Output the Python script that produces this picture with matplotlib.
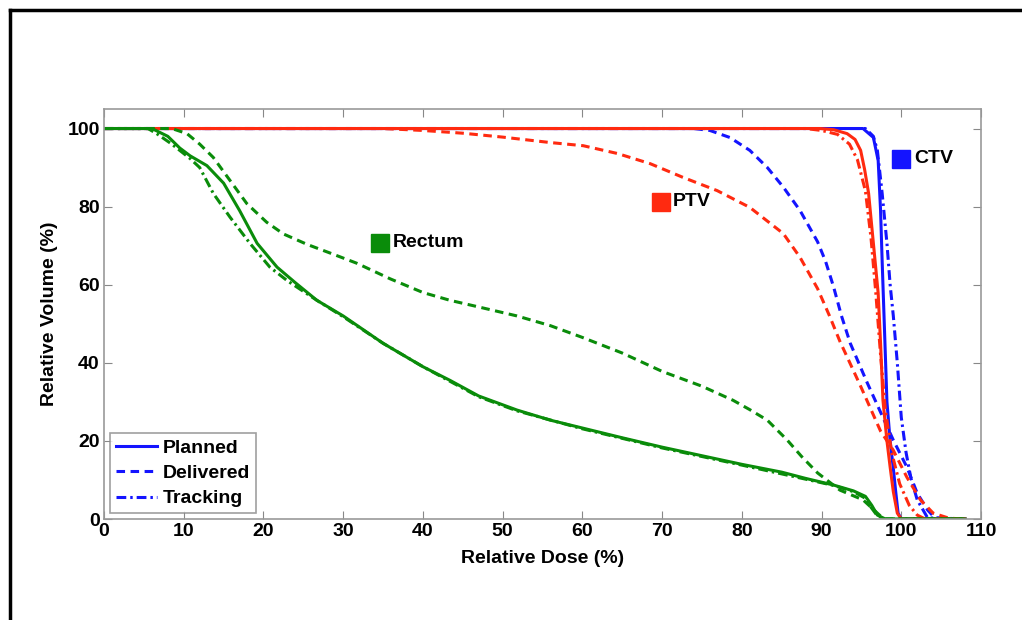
import matplotlib
matplotlib.use('Agg')
import matplotlib.pyplot as plt
from matplotlib.lines import Line2D

plt.rcParams['font.family'] = ['Liberation Sans', 'DejaVu Sans']
plt.rcParams['font.weight'] = 'bold'

# ---- data (dose %, volume %) ----
ctv_plan_x = [0, 95.2, 96.5, 97.1, 97.4, 97.6, 97.9, 98.2, 98.6, 99, 99.3, 99.6, 100, 108]
ctv_plan_y = [100, 100, 97.7, 91.8, 79, 66, 48, 30, 20, 13, 7, 1.5, 0, 0]

ctv_deliv_x = [0, 74, 76, 78.5, 81, 83.2, 85.2, 87.3, 89.5, 90.5, 91.5, 92.5, 93.6, 95.7, 97.7,
               99, 100.7, 102, 103.3, 104.2, 108]
ctv_deliv_y = [100, 100, 99.5, 97.7, 94.4, 90, 85, 79, 71, 66, 59.5, 52, 45, 35, 26,
               20.2, 13.3, 6.6, 2.3, 0.3, 0]

ctv_track_x = [0, 95.5, 96.5, 97, 97.6, 98.2, 98.6, 99, 99.5, 100, 100.6, 101.2, 102, 103.3, 108]
ctv_track_y = [100, 100, 98, 94.4, 83.4, 70.6, 60, 52, 40, 26, 17, 10.5, 4.9, 0.3, 0]

ptv_plan_x = [0, 89.8, 91.5, 93.2, 94.2, 94.9, 95.4, 95.9, 96.5, 97.1, 97.4, 97.7, 98.2, 98.6,
              99, 99.5, 100, 108]
ptv_plan_y = [100, 100, 99.7, 98.7, 97.2, 94.4, 89.5, 83.4, 70.6, 57.8, 45, 30.4, 20, 13.3,
              7, 1.5, 0, 0]

ptv_deliv_x = [0, 35, 40, 45, 50, 56, 60.1, 64.4, 68.5, 72.6, 76.9, 81, 85.2, 87.3, 89.5,
               91, 92.3, 94.9, 97.4, 99, 100.7, 102.4, 104, 106, 108]
ptv_deliv_y = [100, 100, 99.5, 98.8, 97.8, 96.4, 95.6, 93.6, 91, 87.5, 84.1, 79.8, 73.1, 67, 59,
               52, 45.5, 34, 22.5, 17.6, 10.7, 4.9, 1.5, 0.2, 0]

ptv_track_x = [0, 88, 90, 92, 93.5, 94.5, 95.5, 96.2, 96.8, 97.4, 98, 98.8, 99.8, 101, 102, 103, 108]
ptv_track_y = [100, 100, 99.5, 98.5, 96, 92, 84, 72, 58, 42, 28, 17, 9, 3.5, 1, 0, 0]

rect_plan_x = [0, 6, 8, 9.5, 10.8, 12.9, 15, 17, 19.2, 21.7, 24, 26.7, 30, 35, 40, 43.4, 47,
               51.8, 56, 60, 65, 70, 75, 80, 85, 88, 91.5, 94, 95.5, 96.3, 97, 98, 108]
rect_plan_y = [100, 100, 98, 95, 93, 90.5, 86, 79, 70.6, 64.5, 60.5, 56, 52, 45, 39, 35.5, 31.5,
               27.9, 25.3, 23.3, 20.8, 18.4, 16.2, 14, 12, 10.4, 8.7, 7.2, 5.8, 3.5, 1, 0, 0]

rect_deliv_x = [0, 8.5, 10.4, 12, 13.7, 15.8, 17.9, 20.4, 22.5, 25.5, 28.5, 31.7, 35.9, 40, 43.4,
                47, 51.8, 56, 60, 65, 70, 75, 78.9, 81, 83.2, 85.7, 87.5, 89.5, 92.3, 95.2, 97,
                97.8, 108]
rect_deliv_y = [100, 100, 98.7, 96, 92.6, 86.7, 80.8, 76, 73, 70.3, 68, 65.5, 61.5, 58, 56,
                54.3, 52, 49.5, 46.5, 42.5, 37.8, 34, 30.4, 28, 25.3, 20.2, 16, 11.8, 7.4, 4.9, 1.5,
                0, 0]

rect_track_x = [0, 5.5, 6.6, 8.5, 10.8, 12, 13.7, 15.8, 18.3, 20.8, 23, 26.7, 30, 35, 40, 47,
                51.8, 60, 70, 80, 88, 91.5, 94, 95.5, 96.2, 97, 98, 108]
rect_track_y = [100, 100, 98.7, 96, 92.3, 90, 83.4, 77.3, 70.6, 64.5, 61, 56, 51.8, 45, 39, 31.3,
                27.7, 23.1, 18.2, 13.8, 10.2, 8.6, 7, 5.3, 3, 0.8, 0, 0]

organ_names = ['CTV', 'PTV', 'Rectum']
organ_label_x = [100, 69.8, 34.6]
organ_label_y = [92.3, 81.3, 70.8]

blue = '#1414ff'
red = '#ff2a10'
green = '#0a8c0a'
organ_colors = [blue, red, green]

dash = (2.8, 1.8)
dashdot = (3.2, 1.3, 0.8, 1.3)
lw = 2.2

fig = plt.figure(figsize=(10.22, 6.2), dpi=100)
ax = fig.add_axes([0.1018, 0.1629, 0.8581, 0.6613])

ax.plot(ctv_plan_x, ctv_plan_y, color=blue, lw=lw)
ax.plot(ctv_track_x, ctv_track_y, color=blue, lw=lw, dashes=dashdot)
ax.plot(ctv_deliv_x, ctv_deliv_y, color=blue, lw=lw, dashes=dash)
ax.plot(ptv_plan_x, ptv_plan_y, color=red, lw=lw)
ax.plot(ptv_track_x, ptv_track_y, color=red, lw=lw, dashes=dashdot)
ax.plot(ptv_deliv_x, ptv_deliv_y, color=red, lw=lw, dashes=dash)
ax.plot(rect_track_x, rect_track_y, color=green, lw=lw, dashes=dashdot)
ax.plot(rect_deliv_x, rect_deliv_y, color=green, lw=lw, dashes=dash)
ax.plot(rect_plan_x, rect_plan_y, color=green, lw=lw)

for name, lx, ly, c in zip(organ_names, organ_label_x, organ_label_y, organ_colors):
    ax.plot([lx], [ly], marker='s', ms=13, color=c, mec=c)
    ax.annotate(name, (lx, ly), xytext=(9, 0), textcoords='offset points',
                ha='left', va='center', fontsize=14, fontweight='bold')

ax.set_xlim(0, 110)
ax.set_ylim(0, 105)
ax.set_xticks(range(0, 111, 10))
ax.set_yticks(range(0, 101, 20))
ax.tick_params(direction='in', top=True, right=True, length=6, color='#888888',
               labelsize=14, pad=3)
for lab in ax.get_xticklabels() + ax.get_yticklabels():
    lab.set_fontweight('bold')
for s in ax.spines.values():
    s.set_color('#999999')
    s.set_linewidth(1.2)

ax.set_xlabel('Relative Dose (%)', fontsize=14, fontweight='bold', labelpad=7)
ax.set_ylabel('Relative Volume (%)', fontsize=14, fontweight='bold', labelpad=7)

handles = [Line2D([], [], color=blue, lw=lw),
           Line2D([], [], color=blue, lw=lw, dashes=dash),
           Line2D([], [], color=blue, lw=lw, dashes=dashdot)]
leg = ax.legend(handles, ['Planned', 'Delivered', 'Tracking'], loc='lower left',
                prop={'weight': 'bold', 'size': 14}, frameon=True, fancybox=False,
                handlelength=2.1, handletextpad=0.3, labelspacing=0.4, borderpad=0.3,
                borderaxespad=0.3)
leg.get_frame().set_edgecolor('#888888')
leg.get_frame().set_linewidth(1.2)

# outer black frame (only left and top edges are inside the picture)
fig.add_artist(Line2D([10 / 1022, 10 / 1022], [0, 1 - 10 / 620], color='black', lw=2.5,
                      transform=fig.transFigure))
fig.add_artist(Line2D([10 / 1022, 1], [1 - 10 / 620, 1 - 10 / 620], color='black', lw=2.5,
                      transform=fig.transFigure))

fig.savefig('out.png', dpi=100)
plt.close(fig)
